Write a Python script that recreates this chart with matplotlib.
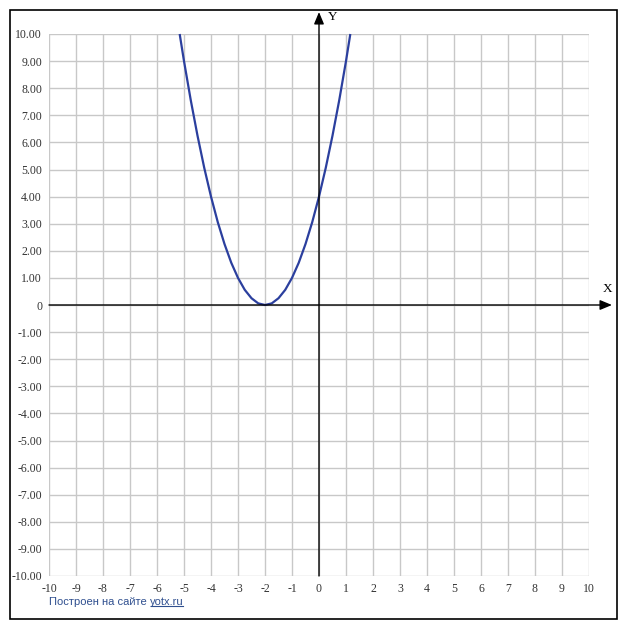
import matplotlib
matplotlib.use('Agg')
import matplotlib.pyplot as plt
from matplotlib.patches import Rectangle
from matplotlib.lines import Line2D

# points
xs = [-5.16, -5, -4.75, -4.5, -4.25, -4, -3.75, -3.5, -3.25, -3, -2.75, -2.5, -2.25, -2,
      -1.75, -1.5, -1.25, -1, -0.75, -0.5, -0.25, 0, 0.25, 0.5, 0.75, 1, 1.16]
ys = [10, 9, 7.56, 6.25, 5.06, 4, 3.06, 2.25, 1.56, 1, 0.56, 0.25, 0.06, 0,
      0.06, 0.25, 0.56, 1, 1.56, 2.25, 3.06, 4, 5.06, 6.25, 7.56, 9, 10]

x_ticks = list(range(-10, 11))
y_ticks = list(range(-10, 11))
x_labels = [str(v) for v in x_ticks]
y_labels = ['0' if v == 0 else f'{v:.2f}' for v in y_ticks]

LINE_COLOR = '#2b3f9e'
GRID_COLOR = '#c8c8c8'
FOOT_COLOR = '#2f4f8f'
SERIF = 'Liberation Serif'

W, H = 627, 630
fig = plt.figure(figsize=(W / 100, H / 100), dpi=100)
fig.patch.set_facecolor('white')

# outer frame
fig.patches.append(Rectangle((10 / W, 1 - 619 / H), 607 / W, 609 / H,
                             transform=fig.transFigure, fill=False,
                             edgecolor='black', linewidth=1.2))

ax = fig.add_axes([49 / W, 1 - 576 / H, 540 / W, 542 / H])
ax.set_xlim(-10, 10)
ax.set_ylim(-10, 10)
for s in ax.spines.values():
    s.set_visible(False)
ax.set_xticks(x_ticks)
ax.set_yticks(y_ticks)
ax.set_xticklabels(x_labels, fontsize=8.5, family=SERIF, color='#333333')
ax.set_yticklabels(y_labels, fontsize=8.5, family=SERIF, color='#333333')
ax.tick_params(length=0, pad=5)
ax.grid(True, color=GRID_COLOR, linewidth=1)
ax.set_axisbelow(True)

# axes with arrows
ax.annotate('', xy=(10.85, 0), xytext=(-10, 0), annotation_clip=False,
            arrowprops=dict(arrowstyle='-|>,head_length=0.6,head_width=0.25',
                            color='black', lw=1, mutation_scale=12, shrinkA=0, shrinkB=0))
ax.annotate('', xy=(0, 10.81), xytext=(0, -10), annotation_clip=False,
            arrowprops=dict(arrowstyle='-|>,head_length=0.6,head_width=0.25',
                            color='black', lw=1, mutation_scale=12, shrinkA=0, shrinkB=0))
ax.text(10.67, 0.6, 'X', fontsize=9.5, family=SERIF, ha='center', va='center', clip_on=False)
ax.text(0.52, 10.63, 'Y', fontsize=9.5, family=SERIF, ha='center', va='center', clip_on=False)

ax.plot(xs, ys, color=LINE_COLOR, linewidth=1.6, solid_capstyle='butt', clip_on=False)

# footer
t1 = fig.text(49 / W, 1 - 602 / H, 'Построен на сайте ', fontsize=8,
              family='Liberation Sans', color=FOOT_COLOR, ha='left', va='center')
fig.canvas.draw()
bb = t1.get_window_extent()
t2 = fig.text(bb.x1 / W, 1 - 602 / H, 'yotx.ru', fontsize=8, family='Liberation Sans',
              color=FOOT_COLOR, ha='left', va='center')
fig.canvas.draw()
bb2 = t2.get_window_extent()
uy = (bb2.y0 + 1) / H
fig.lines.append(Line2D([(bb2.x0 + 1) / W, (bb2.x1 - 1) / W], [uy, uy],
                        transform=fig.transFigure, color=FOOT_COLOR, linewidth=0.8))

fig.savefig('out.png', dpi=100)
